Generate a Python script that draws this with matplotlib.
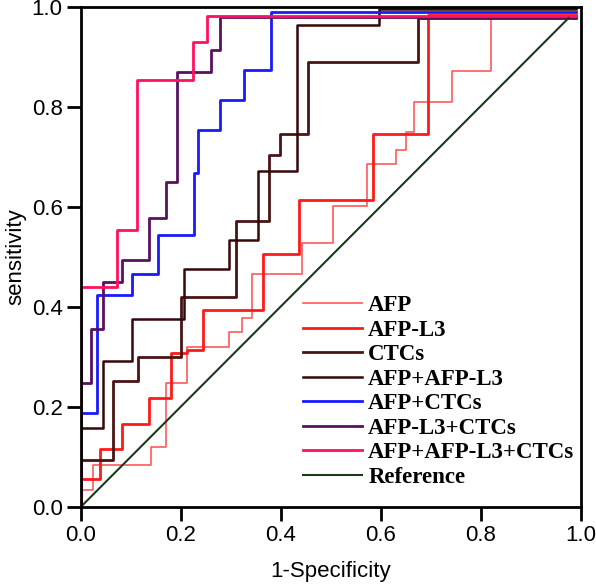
import numpy as np
import matplotlib.pyplot as plt

plt.rcParams['font.family'] = ['Liberation Sans', 'DejaVu Sans']

# ROC step corners (1-specificity, sensitivity)
afp_x = [0, 0, 0.024, 0.141, 0.171, 0.212, 0.297, 0.322, 0.342, 0.443, 0.505, 0.573, 0.631, 0.651, 0.667, 0.743, 0.819, 0.99]
afp_y = [0, 0.034, 0.083, 0.12, 0.247, 0.319, 0.349, 0.377, 0.465, 0.527, 0.601, 0.686, 0.713, 0.749, 0.809, 0.871, 0.977, 0.977]

l3_x = [0, 0, 0.039, 0.083, 0.137, 0.181, 0.212, 0.245, 0.364, 0.436, 0.585, 0.695, 0.99]
l3_y = [0, 0.055, 0.116, 0.166, 0.217, 0.307, 0.313, 0.393, 0.506, 0.614, 0.746, 0.984, 0.984]

ctc_x = [0, 0, 0.065, 0.115, 0.2, 0.31, 0.377, 0.399, 0.455, 0.675, 0.99]
ctc_y = [0, 0.094, 0.251, 0.299, 0.419, 0.571, 0.704, 0.745, 0.889, 0.977, 0.977]

afp_l3_x = [0, 0, 0.045, 0.102, 0.207, 0.297, 0.354, 0.432, 0.597, 0.99]
afp_l3_y = [0, 0.157, 0.292, 0.375, 0.476, 0.533, 0.671, 0.964, 0.995, 0.995]

afp_ctc_x = [0, 0, 0.032, 0.102, 0.155, 0.227, 0.234, 0.279, 0.327, 0.381, 0.99]
afp_ctc_y = [0, 0.187, 0.424, 0.465, 0.543, 0.667, 0.753, 0.814, 0.873, 0.989, 0.989]

l3_ctc_x = [0, 0, 0.02, 0.045, 0.083, 0.137, 0.17, 0.192, 0.26, 0.279, 0.99]
l3_ctc_y = [0, 0.247, 0.356, 0.449, 0.494, 0.577, 0.649, 0.869, 0.913, 0.979, 0.979]

all_x = [0, 0, 0.072, 0.113, 0.225, 0.252, 0.99]
all_y = [0, 0.439, 0.554, 0.854, 0.929, 0.982, 0.982]

ref_x = [0, 0.975]
ref_y = [0, 0.977]

fig = plt.figure(figsize=(5.96, 5.87), dpi=100)
ax = fig.add_axes([0.1354, 0.1363, 0.8396, 0.8526])

curves = [
    (afp_x, afp_y, 'AFP', '#ff5a5a', 1.2),
    (l3_x, l3_y, 'AFP-L3', '#ff1a1a', 2.0),
    (ctc_x, ctc_y, 'CTCs', '#4a1414', 2.0),
    (afp_l3_x, afp_l3_y, 'AFP+AFP-L3', '#360808', 1.8),
    (afp_ctc_x, afp_ctc_y, 'AFP+CTCs', '#1a1aff', 2.0),
    (l3_ctc_x, l3_ctc_y, 'AFP-L3+CTCs', '#5a1060', 2.0),
    (all_x, all_y, 'AFP+AFP-L3+CTCs', '#ff1060', 2.0),
]
for x, y, name, c, lw in curves:
    ax.plot(x, y, drawstyle='steps-post', color=c, lw=lw, label=name)
ax.plot(ref_x, ref_y, color='#1a3a1a', lw=1.5, label='Reference')

ax.set_xlim(0, 1)
ax.set_ylim(0, 1)
ax.set_xticks(np.arange(0, 1.01, 0.2))
ax.set_yticks(np.arange(0, 1.01, 0.2))
ax.xaxis.set_major_formatter(plt.FormatStrFormatter('%.1f'))
ax.yaxis.set_major_formatter(plt.FormatStrFormatter('%.1f'))
for s in ax.spines.values():
    s.set_linewidth(2)
ax.tick_params(direction='out', length=10, width=2, labelsize=16, pad=3)
ax.set_xlabel('1-Specificity', fontsize=16, labelpad=11)
ax.set_ylabel('sensitivity', fontsize=16, labelpad=4)

ax.legend(loc='upper left', bbox_to_anchor=(0.444, 0.423), frameon=False,
          prop={'family': 'Liberation Serif', 'weight': 'bold', 'size': 16.5},
          handlelength=2.6, handletextpad=0.25, labelspacing=0.15,
          borderpad=0, borderaxespad=0)

plt.savefig('out.png', dpi=100)
